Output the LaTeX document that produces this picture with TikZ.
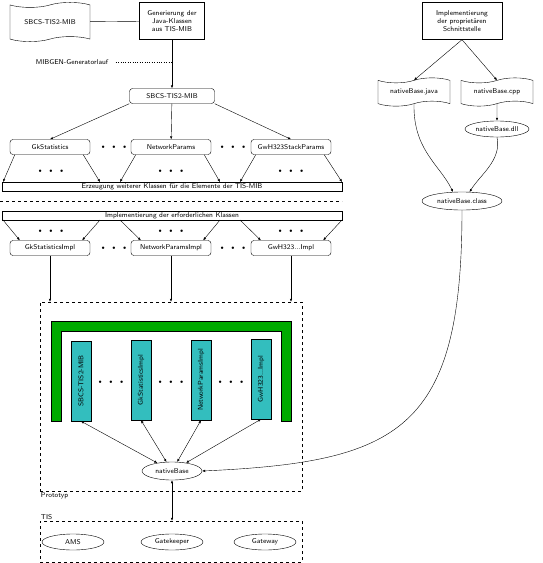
\documentclass[tikz,border=0pt]{standalone}
\usetikzlibrary{arrows.meta,shapes.symbols,shapes.geometric}
\definecolor{ugreen}{RGB}{0,170,0}
\definecolor{icyan}{RGB}{51,190,190}
\tikzset{
  arr/.style={-{Latex[length=3pt,width=2.5pt]}},
  darr/.style={{Latex[length=3pt,width=2.5pt]}-{Latex[length=3pt,width=2.5pt]}},
  box/.style={draw,align=center,inner sep=1pt},
  rbox/.style={draw,rounded corners=3pt,minimum width=80pt,minimum height=15pt,inner sep=1pt},
  tbox/.style={draw,tape,tape bend height=5pt,inner xsep=1pt,inner ysep=6pt},
  ell/.style={draw,ellipse,inner sep=0pt},
  cbox/.style={draw,fill=icyan,rotate=90,minimum width=80pt,minimum height=20pt,inner sep=1pt},
  dbox/.style={draw,dashed,minimum width=262pt},
  dots/.style={inner sep=0pt}
}
\newcommand{\threedots}{{\tiny$\bullet$}\hspace{7pt}{\tiny$\bullet$}\hspace{7pt}{\tiny$\bullet$}}
\begin{document}
\begin{tikzpicture}[font=\sffamily\scriptsize,x=1pt,y=-1pt]
\useasboundingbox (0,0) rectangle (543,563);

% Generierung aus der MIB
\node[tbox,minimum width=80pt,inner ysep=12pt] (mib) at (50,22) {SBCS-TIS2-MIB};
\node[box,minimum width=65pt,minimum height=37pt] (gen) at (172,21) {Generierung der\\Java-Klassen\\aus TIS-MIB};
\draw (mib) -- (gen);
\node (mibgen) at (72,62) {MIBGEN-Generatorlauf};
\coordinate (genline) at (172,62);
\draw[dotted,shorten <=4pt] (mibgen) -- (genline);
\node[rbox,minimum width=85pt] (mibc) at (172,96) {SBCS-TIS2-MIB};
\draw[arr] (gen) -- (mibc);

\node[rbox] (gk) at (50,147) {GkStatistics};
\node[rbox] (np) at (171,147) {NetworkParams};
\node[rbox] (gw) at (291,147) {GwH323StackParams};
\node[dots] (d1) at (114,147) {\threedots};
\node[dots] (d2) at (233,147) {\threedots};
\draw[arr] (mibc.south west) -- (gk.north);
\draw[arr] (mibc) -- (np);
\draw[arr] (mibc.south east) -- (gw.north);

\node[box,minimum width=340pt,minimum height=9pt] (erz) at (172,186.5) {Erzeugung weiterer Klassen f\"ur die Elemente der TIS-MIB};
\foreach \n/\l/\r in {gk/3/100,np/120/220,gw/240/342} {
  \coordinate (\n-l) at (\l,182);
  \coordinate (\n-r) at (\r,182);
  \draw[arr] ([xshift=5pt]\n.south west) -- (\n-l);
  \draw[arr] ([xshift=-7pt]\n.south east) -- (\n-r);
}
\node[dots] (d3) at (51,171) {\threedots};
\node[dots] (d4) at (171,171) {\threedots};
\node[dots] (d5) at (291,171) {\threedots};

\draw[dashed] (0,201) -- (342,201);

% Implementierung
\node[box,minimum width=340pt,minimum height=9pt] (imp) at (172,215.5) {Implementierung der erforderlichen Klassen};
\node[rbox] (gki) at (50,248) {GkStatisticsImpl};
\node[rbox] (npi) at (171,248) {NetworkParamsImpl};
\node[rbox] (gwi) at (291,248) {GwH323...Impl};
\node[dots] (d6) at (114,248) {\threedots};
\node[dots] (d7) at (233,248) {\threedots};
\foreach \n/\l/\r in {gki/3/100,npi/120/220,gwi/240/342} {
  \coordinate (\n-l) at (\l,220);
  \coordinate (\n-r) at (\r,220);
  \draw[arr] (\n-l) -- ([xshift=10pt]\n.north west);
  \draw[arr] (\n-r) -- ([xshift=-8pt]\n.north east);
}
\node[dots] (d8) at (51,231) {\threedots};
\node[dots] (d9) at (171,231) {\threedots};
\node[dots] (d10) at (291,231) {\threedots};

% Prototyp
\node[dbox,minimum height=189pt,label={[anchor=north west,inner sep=1pt]south west:Prototyp}] (proto) at (171,396.5) {};
\foreach \n in {gki,npi,gwi}
  \draw[arr] (\n) -- (\n |- proto.north);
\draw[fill=ugreen] (51,421) -- (51,321) -- (291,321) -- (291,421) -- (281,421) -- (281,331) -- (61,331) -- (61,421) -- cycle;
\node[cbox] (c1) at (81,381) {SBCS-TIS2-MIB};
\node[cbox] (c2) at (141,380) {GkStatisticsImpl};
\node[cbox] (c3) at (201,380) {NetworkParamsImpl};
\node[cbox] (c4) at (261,379) {GwH323...Impl};
\node[dots] (d11) at (111,382) {\threedots};
\node[dots] (d12) at (171,382) {\threedots};
\node[dots] (d13) at (231,382) {\threedots};
\node[ell,minimum width=60pt,minimum height=18pt] (nb) at (172,471) {nativeBase};
\foreach \n in {c1,c2,c3,c4}
  \draw[darr] (\n.west) -- (nb);

% TIS
\node[dbox,minimum height=41pt,label={[anchor=south west,inner sep=1pt]north west:TIS}] (tis) at (171,541.5) {};
\draw[darr] (nb) -- (nb |- tis.north);
\node[ell,minimum width=62pt,minimum height=16pt] (ams) at (73,542) {AMS};
\node[ell,minimum width=62pt,minimum height=16pt] (gkp) at (172,542) {Gatekeeper};
\node[ell,minimum width=62pt,minimum height=16pt] (gwy) at (265,542) {Gateway};

% proprietaere Schnittstelle
\node[box,minimum width=80pt,minimum height=37pt] (prop) at (462,21) {Implementierung\\der propriet\"aren\\Schnittstelle};
\node[tbox,minimum width=72pt] (java) at (414,92) {nativeBase.java};
\node[tbox,minimum width=72pt] (cpp) at (497,92) {nativeBase.cpp};
\node[ell,minimum width=64pt,minimum height=16pt] (dll) at (497,129) {nativeBase.dll};
\node[ell,minimum width=80pt,minimum height=18pt] (nbc) at (462,201) {nativeBase.class};
\draw[arr] (prop.south) -- (java.north);
\draw[arr] (prop.south) -- (cpp.north);
\draw[arr] (cpp) -- (dll);
\draw[arr] (java.south) .. controls (413,150) and (440,165) .. (nbc.135);
\draw[arr] (dll.south) .. controls (502,160) and (480,175) .. (nbc.50);
\draw[arr] (nbc.south) .. controls (462,430) and (400,462) .. (nb.east);

\end{tikzpicture}
\end{document}
